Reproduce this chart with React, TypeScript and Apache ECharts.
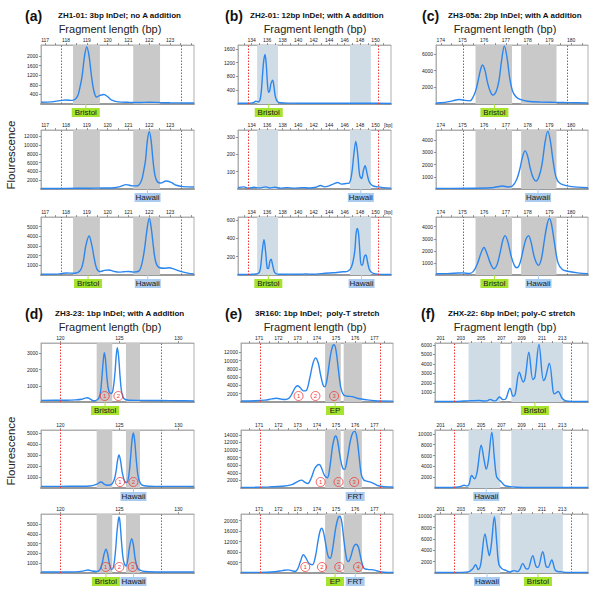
import React, { useEffect, useRef } from 'react';
import * as echarts from 'echarts';

const FONT = '"Liberation Sans", Arial, Helvetica, sans-serif';
const GRAY = '#c9c9c9';
const BLUEGRAY = '#cfdce6';
const LINE = '#2b86ef';
const RED = '#f03a3a';
const GREEN_TAG = '#a6e32e';
const BLUE_TAG = '#a9cbf0';

// ---------- curves ([bp, fluorescence]) ----------
const curveA1: [number, number][] = [[116.8,70],[117.3,90],[117.7,140],[118.0,170],[118.3,150],[118.55,320],[118.66,650],[118.78,1200],[118.89,2000],[119.0,2380],[119.11,2000],[119.22,1200],[119.34,550],[119.47,290],[119.64,360],[119.82,400],[120.0,310],[120.2,160],[120.5,90],[121,70],[121.5,60],[122,75],[122.5,60],[123,50],[123.5,45],[124.15,40]];
const curveA2: [number, number][] = [[116.8,120],[117.5,130],[118.5,170],[119.5,210],[120.3,300],[120.6,550],[120.9,1000],[121.2,700],[121.45,750],[121.63,2000],[121.72,3800],[121.82,6500],[121.91,11000],[122.0,13000],[122.09,11000],[122.18,6500],[122.28,3000],[122.4,1600],[122.55,1350],[122.8,1800],[123.05,1500],[123.3,850],[123.6,550],[124.15,450]];
const curveA3: [number, number][] = [[116.8,80],[117.5,90],[118.0,200],[118.4,180],[118.7,500],[118.84,1500],[118.95,3000],[119.11,4030],[119.24,3100],[119.35,1800],[119.47,700],[119.63,350],[119.85,480],[120.06,520],[120.3,380],[120.55,300],[120.8,340],[121.0,360],[121.25,300],[121.5,400],[121.65,1200],[121.78,2800],[121.88,4500],[122.0,5870],[122.1,4800],[122.2,2900],[122.32,1300],[122.5,750],[122.75,700],[122.95,750],[123.2,600],[123.55,350],[123.85,200],[124.15,100]];

const curveB1: [number, number][] = [[132.23,20],[133.5,20],[134.2,40],[134.55,80],[134.85,60],[135.15,200],[135.4,850],[135.55,1250],[135.72,1440],[135.88,1150],[136.02,650],[136.18,340],[136.32,380],[136.5,600],[136.71,690],[136.88,500],[137.05,220],[137.3,80],[137.7,35],[139,25],[142,20],[146,20],[150,20],[152,15]];
const curveB2: [number, number][] = [[132.23,8],[133,12],[133.6,5],[134.3,10],[135,6],[135.8,12],[136.3,6],[137,10],[137.7,5],[138.5,8],[139.5,5],[140.5,8],[141.5,6],[142.3,10],[142.9,20],[143.4,12],[144,18],[144.6,30],[145.1,38],[145.6,28],[146.2,32],[146.6,35],[146.9,80],[147.2,200],[147.45,275],[147.7,200],[147.95,80],[148.2,60],[148.45,110],[148.65,135],[148.9,90],[149.2,40],[149.6,20],[150.3,12],[151,8],[152,5]];
const curveB3: [number, number][] = [[132.23,5],[133.5,5],[134.3,10],[134.8,15],[135.1,60],[135.35,250],[135.59,385],[135.8,250],[136.0,75],[136.15,70],[136.35,150],[136.5,172],[136.7,110],[136.95,30],[137.3,10],[138,8],[139,10],[140,8],[141,12],[142,8],[143,15],[144,22],[145,28],[145.8,35],[146.4,40],[146.9,90],[147.3,250],[147.5,460],[147.66,510],[147.82,440],[147.98,250],[148.15,110],[148.3,110],[148.55,200],[148.75,218],[148.95,150],[149.2,60],[149.6,22],[150.2,10],[152,5]];

const curveC1: [number, number][] = [[173.78,120],[174.2,200],[174.55,380],[174.85,540],[175.1,430],[175.35,380],[175.5,900],[175.62,1700],[175.72,2800],[175.82,4000],[175.92,4680],[176.04,4000],[176.15,2600],[176.28,1500],[176.4,1080],[176.55,1500],[176.68,2800],[176.8,5200],[176.93,6960],[177.05,5600],[177.17,3200],[177.3,1600],[177.45,900],[177.65,550],[178,330],[178.6,230],[179.3,200],[179.9,170],[180.78,120]];
const curveC2: [number, number][] = [[173.78,50],[174.5,50],[175.5,60],[176.3,100],[176.6,180],[176.84,240],[177.1,170],[177.3,250],[177.5,800],[177.65,1700],[177.76,2600],[177.88,3130],[178.0,2700],[178.12,1700],[178.26,900],[178.39,650],[178.52,1000],[178.66,2000],[178.8,3800],[178.93,4750],[179.05,3900],[179.18,2200],[179.32,900],[179.5,450],[179.83,260],[180.3,150],[180.78,100]];
const curveC3: [number, number][] = [[173.78,100],[174.3,110],[174.8,160],[175.04,180],[175.3,120],[175.5,300],[175.7,1000],[175.85,1800],[175.99,2280],[176.12,1800],[176.3,900],[176.45,520],[176.6,900],[176.75,2000],[176.86,2900],[176.96,3260],[177.08,2800],[177.25,1500],[177.4,750],[177.5,600],[177.65,1000],[177.82,2300],[177.93,3000],[178.04,3260],[178.16,2700],[178.32,1400],[178.5,800],[178.64,1400],[178.78,3000],[178.9,4200],[179.0,4690],[179.1,4200],[179.24,2600],[179.4,1000],[179.6,450],[179.84,310],[180.3,180],[180.78,100]];

const curveD1: [number, number][] = [[118.36,100],[119.5,110],[120.5,110],[121.3,130],[121.8,170],[122.1,240],[122.29,265],[122.5,200],[122.8,80],[123.1,120],[123.35,400],[123.52,1500],[123.63,2500],[123.73,3040],[123.83,2600],[123.95,1500],[124.1,700],[124.3,520],[124.45,700],[124.62,1700],[124.73,2800],[124.83,3350],[124.94,2800],[125.06,1600],[125.2,600],[125.4,200],[125.8,110],[127,100],[128.5,90],[130,80],[131.33,60]];
const curveD2: [number, number][] = [[118.36,150],[120,150],[121.5,160],[122.5,180],[123.1,350],[123.45,550],[123.75,320],[124.0,250],[124.3,300],[124.55,700],[124.72,1500],[124.85,2500],[124.97,3000],[125.1,2500],[125.25,1400],[125.45,600],[125.63,500],[125.8,1100],[125.95,2700],[126.07,4300],[126.19,5000],[126.3,4300],[126.45,2400],[126.6,1000],[126.8,400],[127.1,200],[128,150],[130,150],[131.33,140]];
const curveD3: [number, number][] = [[118.36,100],[120,100],[121.3,120],[122.0,220],[122.37,310],[122.7,200],[123.08,150],[123.35,350],[123.55,1000],[123.7,1900],[123.87,2440],[124.02,1900],[124.17,900],[124.35,350],[124.5,600],[124.67,2200],[124.8,4200],[124.92,5500],[124.97,5750],[125.05,5300],[125.2,3000],[125.35,1300],[125.57,720],[125.72,1400],[125.87,2700],[126.05,3530],[126.2,2800],[126.35,1400],[126.55,500],[126.75,300],[127.2,150],[128.5,100],[131.33,100]];

const curveE1: [number, number][] = [[170.05,250],[170.8,300],[171.3,450],[171.65,750],[171.9,900],[172.15,700],[172.35,600],[172.55,900],[172.75,2400],[172.87,3500],[173.0,3950],[173.13,3500],[173.3,2700],[173.45,2800],[173.62,5500],[173.78,9000],[173.93,10650],[174.07,9500],[174.2,6500],[174.32,4200],[174.42,3700],[174.55,6000],[174.7,11000],[174.82,13500],[174.9,13870],[175.0,12500],[175.12,8000],[175.25,3500],[175.4,1700],[175.6,1400],[175.85,1300],[176.1,900],[176.5,600],[177.0,300],[177.97,200]];
const curveE2: [number, number][] = [[170.05,150],[170.8,200],[171.5,300],[172.2,450],[172.7,900],[173.0,1700],[173.2,2080],[173.38,1500],[173.53,1200],[173.7,2500],[173.88,5000],[174.02,6000],[174.13,6200],[174.25,5200],[174.4,3300],[174.55,2700],[174.68,5500],[174.82,11000],[174.93,13400],[174.98,13700],[175.08,12500],[175.22,8000],[175.35,5200],[175.45,4900],[175.58,7500],[175.75,12500],[175.88,14600],[175.98,14900],[176.08,13500],[176.2,8500],[176.32,3500],[176.45,2100],[176.6,1800],[176.8,1550],[177.0,1100],[177.2,600],[177.5,350],[177.97,250]];
const curveE3: [number, number][] = [[170.05,200],[171,250],[171.8,500],[172.2,900],[172.5,1200],[172.7,900],[172.85,600],[173.0,1500],[173.15,4500],[173.3,6930],[173.45,5500],[173.6,3600],[173.77,3120],[173.92,6000],[174.07,12500],[174.17,16000],[174.25,17070],[174.35,15500],[174.5,9500],[174.6,6200],[174.7,5640],[174.82,9000],[174.97,16500],[175.1,20800],[175.2,21500],[175.3,19500],[175.42,12000],[175.55,5500],[175.65,4380],[175.78,6500],[175.92,10000],[176.05,10970],[176.17,9800],[176.3,5500],[176.45,1830],[176.65,1400],[176.95,1200],[177.2,700],[177.5,300],[177.97,200]];

const curveF1: [number, number][] = [[200.44,50],[201.5,50],[202.5,60],[203.3,100],[204,130],[204.8,150],[205.3,110],[205.6,120],[205.87,280],[206.15,150],[206.4,120],[206.8,520],[207.15,250],[207.4,300],[207.84,1450],[208.15,600],[208.35,800],[208.76,3130],[209.15,2100],[209.35,2600],[209.7,5230],[210.1,2350],[210.3,2600],[210.7,6050],[211.15,2250],[211.35,2600],[211.72,4080],[212.1,1100],[212.2,850],[212.6,1100],[212.95,450],[213.3,150],[214,60],[215.54,50]];
const curveF2: [number, number][] = [[200.44,100],[201.5,100],[202.5,150],[203.0,300],[203.3,500],[203.6,350],[203.8,700],[204.06,2300],[204.35,1700],[204.6,3000],[205.0,7900],[205.3,5000],[205.5,3500],[205.7,5000],[206.05,10300],[206.3,5500],[206.5,2200],[206.7,1600],[206.95,1200],[207.3,500],[207.7,300],[208.5,150],[210,100],[212,100],[215.54,80]];
const curveF3: [number, number][] = [[200.44,100],[202,100],[203,110],[203.8,250],[204.15,700],[204.45,1460],[204.7,600],[204.95,1500],[205.37,6870],[205.65,4200],[205.8,3050],[206.0,5000],[206.3,9930],[206.55,5000],[206.75,1500],[207.08,700],[207.45,450],[207.8,200],[208.26,420],[208.6,250],[208.8,600],[209.1,1700],[209.4,800],[209.6,700],[210.08,3050],[210.4,1200],[210.6,1000],[211.07,3750],[211.4,1200],[211.6,1000],[211.96,2300],[212.3,500],[212.6,250],[212.94,200],[213.5,100],[215.54,100]];

// ---------- axes ----------
const aXLabels = [117, 118, 119, 120, 121, 122, 123];
const aXTicks = [117, 117.5, 118, 118.5, 119, 119.5, 120, 120.5, 121, 121.5, 122, 122.5, 123, 123.5, 124];
const bXLabels = [134, 136, 138, 140, 142, 144, 146, 148, 150];
const bXTicks = [133, 134, 135, 136, 137, 138, 139, 140, 141, 142, 143, 144, 145, 146, 147, 148, 149, 150, 151];
const cXLabels = [174, 175, 176, 177, 178, 179, 180];
const cXTicks = [174, 174.5, 175, 175.5, 176, 176.5, 177, 177.5, 178, 178.5, 179, 179.5, 180, 180.5];
const dXLabels = [120, 125, 130];
const dXTicks = [120, 125, 130];
const eXLabels = [171, 172, 173, 174, 175, 176, 177];
const eXTicks = [170.5, 171, 171.5, 172, 172.5, 173, 173.5, 174, 174.5, 175, 175.5, 176, 176.5, 177, 177.5];
const fXLabels = [201, 203, 205, 207, 209, 211, 213];
const fXTicks = [201, 202, 203, 204, 205, 206, 207, 208, 209, 210, 211, 212, 213, 214, 215];

const aYMax = [2465, 13400, 6000];
const bYMax = [1715, 341, 634];
const cYMax = [7080, 4840, 4800];
const dYMax = [3640, 5270, 6050];
const eYMax = [14290, 15260, 22480];
const fYMax = [6190, 10720, 10400];

const aYLabels = [[400, 800, 1200, 1600, 2000], [2000, 4000, 6000, 8000, 10000, 12000], [1000, 2000, 3000, 4000, 5000]];
const bYLabels = [[400, 800, 1200, 1600], [100, 200, 300], [200, 400, 600]];
const cYLabels = [[2000, 4000, 6000], [1000, 2000, 3000, 4000], [1000, 2000, 3000, 4000]];
const dYLabels = [[1000, 2000, 3000], [1000, 2000, 3000, 4000, 5000], [1000, 2000, 3000, 4000, 5000]];
const eYLabels = [[2000, 4000, 6000, 8000, 10000, 12000], [2000, 4000, 6000, 8000, 10000, 12000, 14000], [4000, 8000, 12000, 16000, 20000]];
const fYLabels = [[1000, 2000, 3000, 4000, 5000, 6000], [2000, 4000, 6000, 8000, 10000], [2000, 4000, 6000, 8000, 10000]];

// ---------- annotations ----------
const aRedLines = [117.75, 123.53];
const bRedLines = [133.55, 150.3];
const cRedLines = [175.04, 179.83];
const dRedLines = [120.0, 128.56];
const eRedLines = [171.04, 177.3];
const fRedLines = [202.35, 213.86];

const aBands = [[118.34, 119.63], [121.23, 122.52]];
const bBands = [[134.7, 137.4], [146.7, 149.4]];
const cBands = [[175.6, 177.28], [177.7, 179.33]];
const dBands = [[123.08, 124.4], [125.56, 126.75]];
const eBands = [[174.43, 175.25], [175.4, 176.35]];
const fBands = [[203.75, 206.88], [207.97, 213.06]];

type Tag = { x: number; text: string };
const aTags: Tag[][] = [[{ x: 118.95, text: 'Bristol' }], [{ x: 121.92, text: 'Hawaii' }], [{ x: 119.06, text: 'Bristol' }, { x: 121.93, text: 'Hawaii' }]];
const bTags: Tag[][] = [[{ x: 136.2, text: 'Bristol' }], [{ x: 148.1, text: 'Hawaii' }], [{ x: 136.15, text: 'Bristol' }, { x: 148.2, text: 'Hawaii' }]];
const cTags: Tag[][] = [[{ x: 176.47, text: 'Bristol' }], [{ x: 178.48, text: 'Hawaii' }], [{ x: 176.47, text: 'Bristol' }, { x: 178.5, text: 'Hawaii' }]];
const dTags: Tag[][] = [[{ x: 123.79, text: 'Bristol' }], [{ x: 126.2, text: 'Hawaii' }], [{ x: 123.86, text: 'Bristol' }, { x: 126.2, text: 'Hawaii' }]];
const eTags: Tag[][] = [[{ x: 174.95, text: 'EP' }], [{ x: 176.0, text: 'FRT' }], [{ x: 174.95, text: 'EP' }, { x: 176.0, text: 'FRT' }]];
const fTags: Tag[][] = [[{ x: 210.3, text: 'Bristol' }], [{ x: 205.5, text: 'Hawaii' }], [{ x: 205.57, text: 'Hawaii' }, { x: 210.6, text: 'Bristol' }]];

const dCircles: number[][] = [[123.76, 124.92], [125.06, 126.19], [123.85, 125.0, 126.13]];
const eCircles: number[][] = [[173.05, 173.93, 174.9], [174.2, 175.13, 175.95], [173.4, 174.27, 175.17, 176.15]];

const TAG_STYLE: Record<string, { w: number; color: string }> = {
  Bristol: { w: 28, color: GREEN_TAG },
  Hawaii: { w: 26, color: BLUE_TAG },
  EP: { w: 18, color: GREEN_TAG },
  FRT: { w: 19, color: BLUE_TAG },
};

const ROW_TOPS = [[45, 130, 217], [343, 430, 514]];
const ROW_HEIGHTS = [[59, 59, 58], [59, 58, 59]];

type Panel = {
  letter: string; title: string; letterX: number; titleX: number; fragX: number;
  row: number; left: number; width: number;
  xMin: number; xMax: number; xLabels: number[]; xTicks: number[];
  redLines: number[]; bands: number[][]; bandColor: string;
  curves: [number, number][][]; yMax: number[]; yLabels: number[][];
  tags: Tag[][]; circles?: number[][]; bpTag?: boolean;
};

const panels: Panel[] = [
  { letter: '(a)', title: 'ZH1-01: 3bp InDel; no A addition', letterX: 25, titleX: 58, fragX: 110, row: 0, left: 41, width: 153,
    xMin: 116.8, xMax: 124.15, xLabels: aXLabels, xTicks: aXTicks, redLines: aRedLines, bands: aBands, bandColor: GRAY,
    curves: [curveA1, curveA2, curveA3], yMax: aYMax, yLabels: aYLabels, tags: aTags },
  { letter: '(b)', title: 'ZH2-01: 12bp InDel; with A addition', letterX: 225, titleX: 250, fragX: 315, row: 0, left: 238, width: 153,
    xMin: 132.23, xMax: 152.0, xLabels: bXLabels, xTicks: bXTicks, redLines: bRedLines, bands: bBands, bandColor: BLUEGRAY,
    curves: [curveB1, curveB2, curveB3], yMax: bYMax, yLabels: bYLabels, tags: bTags, bpTag: true },
  { letter: '(c)', title: 'ZH3-05a: 2bp InDel; with A addition', letterX: 422, titleX: 448, fragX: 505, row: 0, left: 436, width: 152,
    xMin: 173.78, xMax: 180.78, xLabels: cXLabels, xTicks: cXTicks, redLines: cRedLines, bands: cBands, bandColor: GRAY,
    curves: [curveC1, curveC2, curveC3], yMax: cYMax, yLabels: cYLabels, tags: cTags },
  { letter: '(d)', title: 'ZH3-23: 1bp InDel; with A addition', letterX: 25, titleX: 55, fragX: 110, row: 1, left: 41, width: 153,
    xMin: 118.36, xMax: 131.33, xLabels: dXLabels, xTicks: dXTicks, redLines: dRedLines, bands: dBands, bandColor: GRAY,
    curves: [curveD1, curveD2, curveD3], yMax: dYMax, yLabels: dYLabels, tags: dTags, circles: dCircles },
  { letter: '(e)', title: '3R160: 1bp InDel;  poly-T stretch', letterX: 225, titleX: 255, fragX: 315, row: 1, left: 241, width: 152,
    xMin: 170.05, xMax: 177.97, xLabels: eXLabels, xTicks: eXTicks, redLines: eRedLines, bands: eBands, bandColor: GRAY,
    curves: [curveE1, curveE2, curveE3], yMax: eYMax, yLabels: eYLabels, tags: eTags, circles: eCircles },
  { letter: '(f)', title: 'ZHX-22: 6bp InDel; poly-C stretch', letterX: 421, titleX: 448, fragX: 505, row: 1, left: 435, width: 153,
    xMin: 200.44, xMax: 215.54, xLabels: fXLabels, xTicks: fXTicks, redLines: fRedLines, bands: fBands, bandColor: BLUEGRAY,
    curves: [curveF1, curveF2, curveF3], yMax: fYMax, yLabels: fYLabels, tags: fTags },
];

function tagPath(w: number): string {
  const c = w / 2;
  return `path://M0,4L${w},4L${w},13L0,13Z M${c - 0.5},0L${c + 0.5},0L${c + 0.5},4L${c - 0.5},4Z`;
}

function buildOption() {
  const grid: any[] = [];
  const xAxis: any[] = [];
  const yAxis: any[] = [];
  const series: any[] = [];
  const graphic: any[] = [];

  panels.forEach((p) => {
    const rowY = p.row === 0 ? 0 : 298;
    graphic.push({ type: 'text', x: p.letterX, y: 16 + rowY, style: { text: p.letter, fontFamily: FONT, fontSize: 14, fontWeight: 'bold', fill: '#111', align: 'left', verticalAlign: 'middle' } });
    graphic.push({ type: 'text', x: p.titleX, y: 15.5 + rowY, style: { text: p.title, fontFamily: FONT, fontSize: 8, fontWeight: 'bold', fill: '#111', align: 'left', verticalAlign: 'middle' } });
    graphic.push({ type: 'text', x: p.fragX, y: 28.5 + rowY, style: { text: 'Fragment length (bp)', fontFamily: FONT, fontSize: 11, fill: '#222', align: 'center', verticalAlign: 'middle' } });

    p.curves.forEach((curve, si) => {
      const gi = grid.length;
      const yMax = p.yMax[si];
      grid.push({ left: p.left, width: p.width, top: ROW_TOPS[p.row][si], height: ROW_HEIGHTS[p.row][si], show: true, borderColor: '#b0b0b0', borderWidth: 1 });
      const labelVals = p.bpTag && si > 0 ? [...p.xLabels, 151.65] : p.xLabels;
      const xi = xAxis.length;
      xAxis.push({
        type: 'value', gridIndex: gi, position: 'top', min: p.xMin, max: p.xMax,
        axisLine: { show: true, onZero: false, lineStyle: { color: '#b0b0b0', width: 1 } },
        axisTick: { show: true, customValues: p.xTicks, length: 2, lineStyle: { color: '#555', width: 0.6 } },
        axisLabel: { show: true, customValues: labelVals, fontSize: 5, margin: 3, color: '#222', fontFamily: FONT,
          formatter: (v: number) => (v > 151 && v < 152 ? '[bp]' : String(v)) },
        splitLine: { show: false },
      });
      // bottom baseline (thicker grey line)
      xAxis.push({
        type: 'value', gridIndex: gi, position: 'bottom', min: p.xMin, max: p.xMax,
        axisLine: { show: true, onZero: false, lineStyle: { color: '#9a9a9a', width: 2 } },
        axisTick: { show: false }, axisLabel: { show: false }, splitLine: { show: false },
      });
      yAxis.push({
        type: 'value', gridIndex: gi, min: 0, max: yMax,
        axisLine: { show: true, onZero: false, lineStyle: { color: '#b0b0b0', width: 1 } },
        axisTick: { show: true, customValues: p.yLabels[si], length: 2, lineStyle: { color: '#555', width: 0.6 } },
        axisLabel: { show: true, customValues: p.yLabels[si], fontSize: 5, margin: 3, color: '#222', fontFamily: FONT,
          formatter: (v: number) => String(v) },
        splitLine: { show: false },
      });

      const mpData: any[] = [];
      p.tags[si].forEach((t) => {
        const st = TAG_STYLE[t.text];
        mpData.push({
          coord: [t.x, 0], symbol: tagPath(st.w), symbolSize: [st.w, 13], symbolOffset: [0, 6.5],
          itemStyle: { color: st.color },
          label: { show: true, position: 'inside', formatter: t.text, fontSize: 8, color: '#1a1a1a', fontFamily: FONT, offset: [0, 2] },
        });
      });
      if (p.circles) {
        p.circles[si].forEach((cx, ci) => {
          mpData.push({
            coord: [cx, 0], symbol: 'circle', symbolSize: 9, symbolOffset: [0, -6],
            itemStyle: { color: 'rgba(255,255,255,0)', borderColor: RED, borderWidth: 0.8 },
            label: { show: true, position: 'inside', formatter: String(ci + 1), fontSize: 6, color: RED, fontFamily: FONT },
          });
        });
      }

      const redStyle = { color: RED, type: [1.5, 1.5], width: 1 };
      series.push({
        type: 'line', xAxisIndex: xi, yAxisIndex: gi, data: curve,
        smooth: 0.35, symbol: 'none', z: 3,
        lineStyle: { color: LINE, width: 1.4 },
        markArea: { silent: true, itemStyle: { color: p.bandColor, opacity: 1 }, data: p.bands.map(([a, b]) => [{ xAxis: a }, { xAxis: b }]) },
        markLine: { silent: true, symbol: ['none', 'none'], label: { show: false }, lineStyle: redStyle,
          data: p.redLines.map((v) => ({ xAxis: v, lineStyle: redStyle })) },
        markPoint: { silent: true, data: mpData },
      });
    });
  });

  graphic.push({ type: 'text', x: 11, y: 155, rotation: Math.PI / 2, style: { text: 'Flourescence', fontFamily: FONT, fontSize: 11.5, fill: '#222', align: 'center', verticalAlign: 'middle' } });
  graphic.push({ type: 'text', x: 11, y: 451, rotation: Math.PI / 2, style: { text: 'Flourescence', fontFamily: FONT, fontSize: 11.5, fill: '#222', align: 'center', verticalAlign: 'middle' } });

  return { animation: false, backgroundColor: '#ffffff', grid, xAxis, yAxis, series, graphic };
}

export default function App() {
  const ref = useRef<HTMLDivElement>(null);
  useEffect(() => {
    if (!ref.current) return;
    const chart = echarts.init(ref.current, undefined, { renderer: 'svg' });
    chart.setOption(buildOption() as any);
    return () => chart.dispose();
  }, []);
  return <div ref={ref} style={{ position: 'fixed', left: 0, top: 0, width: 600, height: 595, background: '#fff' }} />;
}
